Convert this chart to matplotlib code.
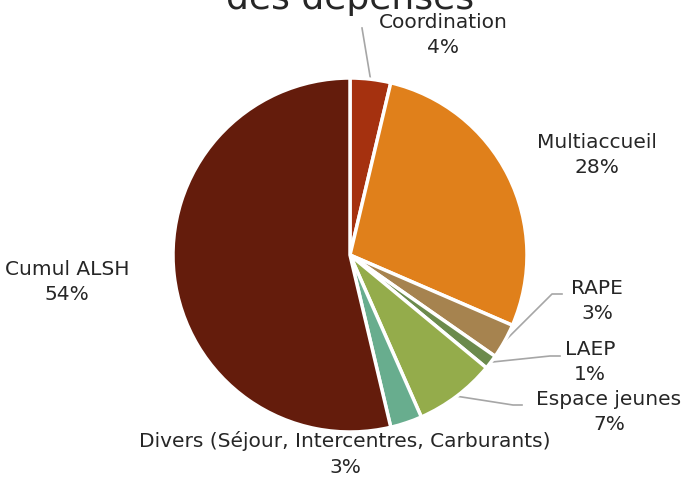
import numpy as np
import matplotlib
matplotlib.use('Agg')
import matplotlib.pyplot as plt

# Répartition des dépenses (part en %)
labels = ['Coordination', 'Multiaccueil', 'RAPE', 'LAEP', 'Espace jeunes',
          'Divers (Séjour, Intercentres, Carburants)', 'Cumul ALSH']
values = [3.7, 27.8, 3.2, 1.3, 7.4, 2.9, 53.7]
pct_labels = ['4%', '28%', '3%', '1%', '7%', '3%', '54%']
colors = ['#A5310F', '#E0801B', '#A6834F', '#6B8A4C', '#94AC4B', '#68AD8E', '#641C0C']

plt.rcParams['font.family'] = ['DejaVu Sans']

fig = plt.figure(figsize=(7, 4.8), dpi=100)
ax = fig.add_axes([0, 0, 1, 1])

H = 480
cx, cy, r = 350, H - 255, 177
wedges, _ = ax.pie(values, colors=colors, startangle=90, counterclock=False,
                   center=(cx, cy), radius=r,
                   wedgeprops=dict(edgecolor='white', linewidth=2.5))
ax.set_xlim(0, 700)
ax.set_ylim(0, H)
ax.set_aspect('equal')
ax.axis('off')

# label centres (pixels from top-left) and leader-line elbows / ends
label_pos = [(443, 35), (597, 155), (597, 301), (590, 362), (609, 412), (345, 454), (67, 282)]
elbows = [(362, 28), None, (552, 294), (550, 356), (513, 405), None, None]
line_end = [(362, 28), None, (562, 294), (560, 356), (522, 405), None, None]

for w, lab, pct, (lx, ly), el, le in zip(wedges, labels, pct_labels, label_pos, elbows, line_end):
    ax.text(lx, H - ly, lab + '\n' + pct, ha='center', va='center',
            fontsize=14.5, color='#262626', linespacing=1.45)
    if el is not None:
        mid = np.radians((w.theta1 + w.theta2) / 2)
        px, py = cx + r * np.cos(mid), cy + r * np.sin(mid)
        xs = [px, el[0], le[0]]
        ys = [py, H - el[1], H - le[1]]
        ax.plot(xs, ys, color='#A6A6A6', linewidth=1.2, zorder=0.5)

ax.text(350, H + 2, 'des dépenses', ha='center', va='center',
        fontsize=26, color='#262626')

fig.savefig('out.png', dpi=100)
